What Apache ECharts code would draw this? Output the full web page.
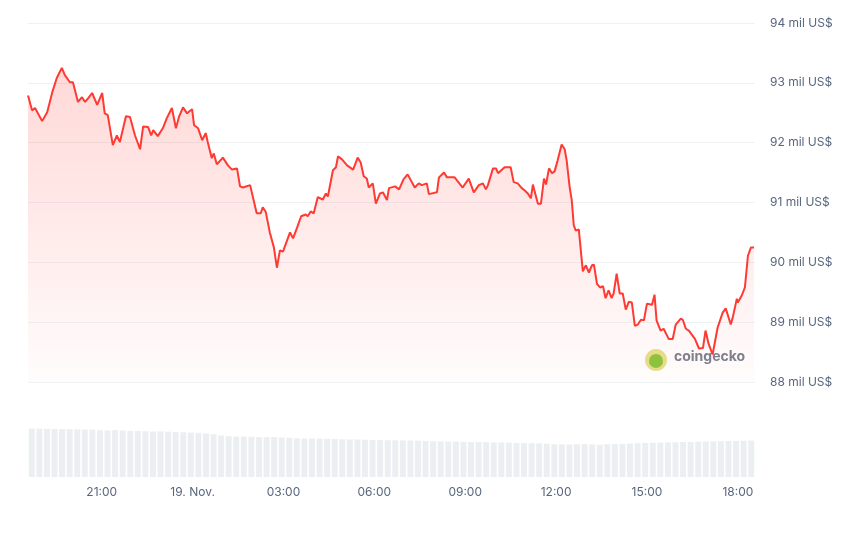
<!DOCTYPE html>
<html><head><meta charset="utf-8">
<script src="https://cdn.jsdelivr.net/npm/echarts@6/dist/echarts.min.js"></script>
<style>html,body{margin:0;padding:0;background:#fff}#c{width:850px;height:543px}</style>
</head><body><div id="c"></div>
<script>
// minutes since 18 Nov 18:34
const minutes = [0,8,14,28,38,48,57,67,73,83,89,99,107,113,119,127,137,147,152,158,168,176,182,194,202,212,222,228,238,244,248,257,267,275,285,293,299,307,315,325,329,337,345,352,356,364,368,374,386,396,404,414,420,426,440,446,453,461,465,471,479,487,493,499,505,519,525,533,541,550,554,560,566,574,584,590,594,604,610,614,622,632,644,653,659,665,671,675,683,689,697,703,711,715,727,735,744,752,766,774,780,790,794,810,814,824,830,845,861,873,883,893,901,907,911,921,927,931,944,956,962,970,978,984,990,996,1000,1010,1016,1022,1026,1032,1038,1043,1049,1057,1063,1067,1073,1077,1081,1085,1091,1099,1105,1111,1117,1121,1127,1133,1139,1144,1150,1156,1160,1166,1172,1178,1184,1190,1196,1202,1208,1214,1220,1226,1236,1241,1245,1253,1259,1269,1277,1283,1293,1297,1303,1309,1321,1329,1337,1342,1348,1356,1366,1376,1382,1392,1396,1404,1406,1414,1420,1426,1432,1438];
// price in thousand US$
const prices = [92.79,92.54,92.58,92.36,92.51,92.84,93.08,93.25,93.13,93.01,93.01,92.68,92.76,92.68,92.74,92.83,92.63,92.83,92.49,92.46,91.96,92.12,92.01,92.44,92.43,92.12,91.89,92.27,92.26,92.12,92.21,92.11,92.24,92.41,92.58,92.24,92.43,92.59,92.49,92.56,92.29,92.24,92.04,92.16,92.01,91.74,91.82,91.64,91.75,91.62,91.55,91.57,91.27,91.25,91.29,91.07,90.82,90.82,90.92,90.84,90.50,90.25,89.91,90.20,90.18,90.50,90.40,90.58,90.77,90.80,90.77,90.85,90.82,91.09,91.05,91.15,91.10,91.54,91.59,91.77,91.72,91.62,91.55,91.75,91.67,91.44,91.40,91.25,91.32,90.98,91.15,91.17,91.04,91.24,91.27,91.22,91.39,91.47,91.25,91.32,91.29,91.32,91.14,91.17,91.42,91.50,91.42,91.42,91.25,91.40,91.17,91.29,91.32,91.22,91.29,91.57,91.57,91.49,91.59,91.59,91.34,91.32,91.24,91.20,91.15,91.07,91.30,90.98,90.98,91.40,91.30,91.57,91.49,91.52,91.70,91.97,91.89,91.70,91.25,91.04,90.62,90.53,90.55,89.85,89.95,89.83,89.95,89.96,89.64,89.58,89.60,89.40,89.53,89.40,89.48,89.81,89.48,89.48,89.21,89.34,89.33,88.94,88.96,89.04,89.03,89.31,89.29,89.46,89.03,88.86,88.89,88.72,88.72,88.96,89.06,89.04,88.89,88.86,88.72,88.56,88.57,88.86,88.64,88.46,88.91,89.16,89.23,88.96,89.08,89.39,89.33,89.45,89.58,90.11,90.25,90.25];
// volume every 15 min (bar centred in each 15-min slot)
const volumes = [48.5,48.3,48.2,48.0,47.9,47.8,47.7,47.5,47.3,46.8,46.6,46.9,46.5,46.2,46.0,45.8,45.5,45.6,45.3,45.0,44.8,44.5,44.2,43.6,42.8,41.5,40.8,40.5,40.3,40.2,40.0,39.8,39.9,39.5,39.2,38.8,38.6,38.5,38.4,38.2,38.0,37.8,37.6,37.5,37.3,37.1,36.9,36.8,36.7,36.6,36.5,36.3,36.0,35.8,35.6,35.5,35.4,35.2,35.0,34.9,34.8,34.6,34.5,34.3,34.1,34.0,33.8,33.6,33.4,32.8,32.6,32.5,32.8,32.9,32.6,32.3,32.8,33.0,33.2,33.5,33.8,34.0,34.2,34.3,34.6,34.8,35.0,35.1,35.3,35.5,35.7,35.9,36.0,36.1,36.3,36.5];
const yTicks = [88,89,90,91,92,93,94];
const tickLabels = ['21:00','19. Nov.','03:00','06:00','09:00','12:00','15:00','18:00'];
const tickMinutes = [146,326,506,686,866,1046,1226,1406]; // minutes since 18:34

const priceData = minutes.map((m,i)=>[m, prices[i]]);
const volData = volumes.map((v,i)=>[i*15+7.5, v]);
const chart = echarts.init(document.getElementById('c'));
chart.setOption({
  animation:false,
  grid:[{left:28,right:95,top:23,bottom:161},{left:28,right:95,top:428,bottom:66}],
  xAxis:[
    {type:'value',gridIndex:0,min:0,max:1440,show:false},
    {type:'value',gridIndex:1,min:0,max:1440,
     axisLine:{show:false},axisTick:{show:false},splitLine:{show:false},
     axisLabel:{customValues:tickMinutes,color:'#58667e',fontFamily:'Inter',fontSize:12,margin:9,hideOverlap:false,
       formatter:v=>{const i=tickMinutes.indexOf(v);return i>=0?tickLabels[i]:'';}}}
  ],
  yAxis:[
    {type:'value',gridIndex:0,position:'right',min:yTicks[0],max:yTicks[yTicks.length-1],interval:1,
     axisLine:{show:false},axisTick:{show:false},
     splitLine:{lineStyle:{color:'#eff2f5'}},
     axisLabel:{color:'#58667e',fontFamily:'Inter',fontSize:12,margin:15,formatter:v=>v+' mil US$'}},
    {type:'value',gridIndex:1,min:0,max:49,show:false}
  ],
  graphic:[
    {type:'circle',shape:{cx:656,cy:360,r:11},style:{fill:'#e6e08a'}},
    {type:'circle',shape:{cx:656,cy:361,r:7},style:{fill:'#8bc53f'}},
    {type:'text',left:674,top:350,style:{text:'coingecko',fill:'#7a8290',font:'bold 14px Inter'}}
  ],
  series:[
    {type:'line',xAxisIndex:0,yAxisIndex:0,data:priceData,showSymbol:false,
     lineStyle:{color:'#ff3a33',width:2},
     areaStyle:{origin:'start',color:new echarts.graphic.LinearGradient(0,0,0,1,[{offset:0,color:'rgba(255,58,51,0.28)'},{offset:1,color:'rgba(255,58,51,0.02)'}])}},
    {type:'bar',xAxisIndex:1,yAxisIndex:1,data:volData,barWidth:6,itemStyle:{color:'#eceff2'}}
  ]
});
</script></body></html>
